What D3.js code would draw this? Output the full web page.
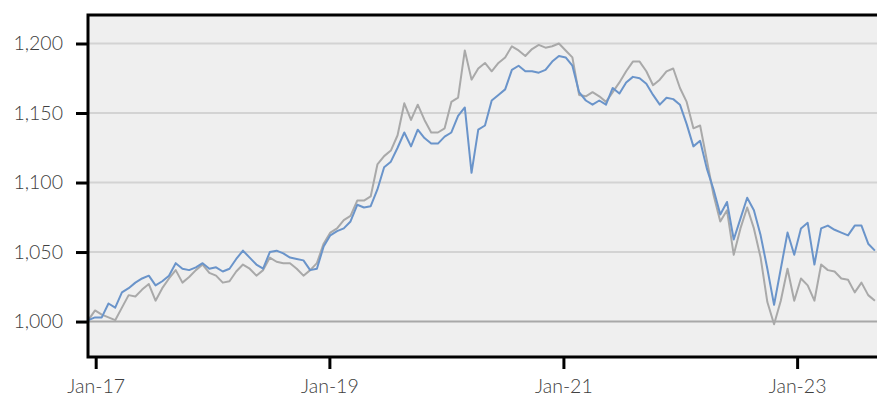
<!DOCTYPE html>
<html>
<head>
<meta charset="utf-8">
<script src="https://cdn.jsdelivr.net/npm/d3@7"></script>
<style>
    body { margin: 0; background: #ffffff; }
    .tickLabel { font-family: Lato, "Open Sans", sans-serif; font-weight: 300; font-size: 19.5px; fill: #404040; }
</style>
</head>
<body>
<script>
//Series sampled every 3 weeks starting 9 Dec 2016
var startDate = '2016-12-09',
    stepDays = 21;

var blueValues = [
    1001, 1003, 1003, 1013, 1010, 1021, 1024, 1028, 1031, 1033,
    1026, 1029, 1033, 1042, 1038, 1037, 1039, 1042, 1038, 1039,
    1036, 1038, 1045, 1051, 1046, 1041, 1038, 1050, 1051, 1049,
    1046, 1045, 1044, 1037, 1038, 1054, 1062, 1065, 1067, 1072,
    1084, 1082, 1083, 1095, 1111, 1115, 1125, 1136, 1126, 1138,
    1132, 1128, 1128, 1133, 1136, 1148, 1154, 1107, 1138, 1141,
    1159, 1163, 1167, 1181, 1184, 1180, 1180, 1179, 1181, 1187,
    1191, 1190, 1184, 1165, 1159, 1156, 1159, 1156, 1168, 1164,
    1172, 1176, 1175, 1171, 1163, 1156, 1161, 1160, 1156, 1142,
    1126, 1130, 1110, 1095, 1077, 1086, 1059, 1074, 1089, 1080,
    1062, 1038, 1012, 1038, 1064, 1048, 1067, 1071, 1041, 1067,
    1069, 1066, 1064, 1062, 1069, 1069, 1056, 1051
];

var greyValues = [
    1001, 1008, 1005, 1003, 1001, 1010, 1019, 1018, 1023, 1027,
    1015, 1024, 1031, 1037, 1028, 1032, 1037, 1041, 1035, 1033,
    1028, 1029, 1036, 1041, 1038, 1033, 1037, 1046, 1043, 1042,
    1042, 1038, 1033, 1037, 1042, 1056, 1064, 1067, 1073, 1076,
    1087, 1087, 1090, 1113, 1119, 1123, 1134, 1157, 1145, 1156,
    1145, 1136, 1136, 1139, 1158, 1161, 1195, 1174, 1182, 1186,
    1180, 1186, 1190, 1198, 1195, 1191, 1196, 1199, 1197, 1198,
    1200, 1195, 1190, 1163, 1162, 1165, 1162, 1158, 1165, 1172,
    1180, 1187, 1187, 1180, 1170, 1174, 1180, 1182, 1168, 1158,
    1139, 1141, 1116, 1091, 1072, 1080, 1048, 1067, 1082, 1067,
    1046, 1014, 998, 1015, 1038, 1015, 1031, 1026, 1015, 1041,
    1037, 1036, 1031, 1030, 1021, 1028, 1019, 1015
];

var yTicks = [1000, 1050, 1100, 1150, 1200];
var xTicks = ['2017-01-01', '2019-01-01', '2021-01-01', '2023-01-01'];

function setChart(){
    //Frame dimensions
    var width = 877,
        height = 400;
    var margin = {top: 15, right: -4, bottom: 43, left: 88};
    var innerW = width - margin.left - margin.right,
        innerH = height - margin.top - margin.bottom;

    var svg = d3.select('body')
        .append('svg')
        .attr('width', width)
        .attr('height', height);

    var g = svg.append('g')
        .attr('transform', 'translate(' + margin.left + ',' + margin.top + ')');

    var parse = d3.timeParse('%Y-%m-%d');
    var t0 = parse(startDate);

    //Attach dates to values
    var blueData = blueValues.map(function(v, i){
        return {date: d3.timeDay.offset(t0, i * stepDays), value: v};
    });
    var greyData = greyValues.map(function(v, i){
        return {date: d3.timeDay.offset(t0, i * stepDays), value: v};
    });

    //Scales
    var x = d3.scaleTime()
        .domain([parse('2016-12-08'), parse('2023-09-20')])
        .range([0, innerW]);
    var y = d3.scaleLinear()
        .domain([974.5, 1220.5])
        .range([innerH, 0]);

    //Plot background
    g.append('rect')
        .attr('width', innerW + 10)
        .attr('height', innerH)
        .attr('fill', '#efefef');

    //Gridlines
    g.selectAll('.grid')
        .data(yTicks)
        .enter()
        .append('line')
        .attr('class', 'grid')
        .attr('x1', 0)
        .attr('x2', innerW + 10)
        .attr('y1', function(d){ return y(d); })
        .attr('y2', function(d){ return y(d); })
        .attr('stroke', function(d){ return d === 1000 ? '#a8a8a8' : '#d3d3d3'; })
        .attr('stroke-width', 2);

    //Lines
    var line = d3.line()
        .x(function(d){ return x(d.date); })
        .y(function(d){ return y(d.value); });

    g.append('path')
        .datum(greyData)
        .attr('fill', 'none')
        .attr('stroke', '#a9a9a9')
        .attr('stroke-width', 2)
        .attr('stroke-linejoin', 'round')
        .attr('d', line);

    g.append('path')
        .datum(blueData)
        .attr('fill', 'none')
        .attr('stroke', '#6a94ca')
        .attr('stroke-width', 2)
        .attr('stroke-linejoin', 'round')
        .attr('d', line);

    //Frame: left, top, bottom
    g.append('path')
        .attr('d', 'M' + (innerW + 10) + ',0H0V' + innerH + 'H' + (innerW + 10))
        .attr('fill', 'none')
        .attr('stroke', '#000')
        .attr('stroke-width', 3);

    //Y axis
    var yAxis = d3.axisLeft(y)
        .tickValues(yTicks)
        .tickSize(12)
        .tickPadding(13)
        .tickFormat(d3.format(','));
    var ya = g.append('g').call(yAxis);
    ya.select('.domain').remove();
    ya.selectAll('line').attr('stroke', '#000').attr('stroke-width', 3);
    ya.selectAll('text').attr('class', 'tickLabel');

    //X axis
    var xAxis = d3.axisBottom(x)
        .tickValues(xTicks.map(parse))
        .tickSize(12)
        .tickPadding(10)
        .tickFormat(d3.timeFormat('%b-%y'));
    var xa = g.append('g')
        .attr('transform', 'translate(0,' + innerH + ')')
        .call(xAxis);
    xa.select('.domain').remove();
    xa.selectAll('line').attr('stroke', '#000').attr('stroke-width', 3);
    xa.selectAll('text').attr('class', 'tickLabel');
};

window.onload = setChart();
</script>
</body>
</html>
